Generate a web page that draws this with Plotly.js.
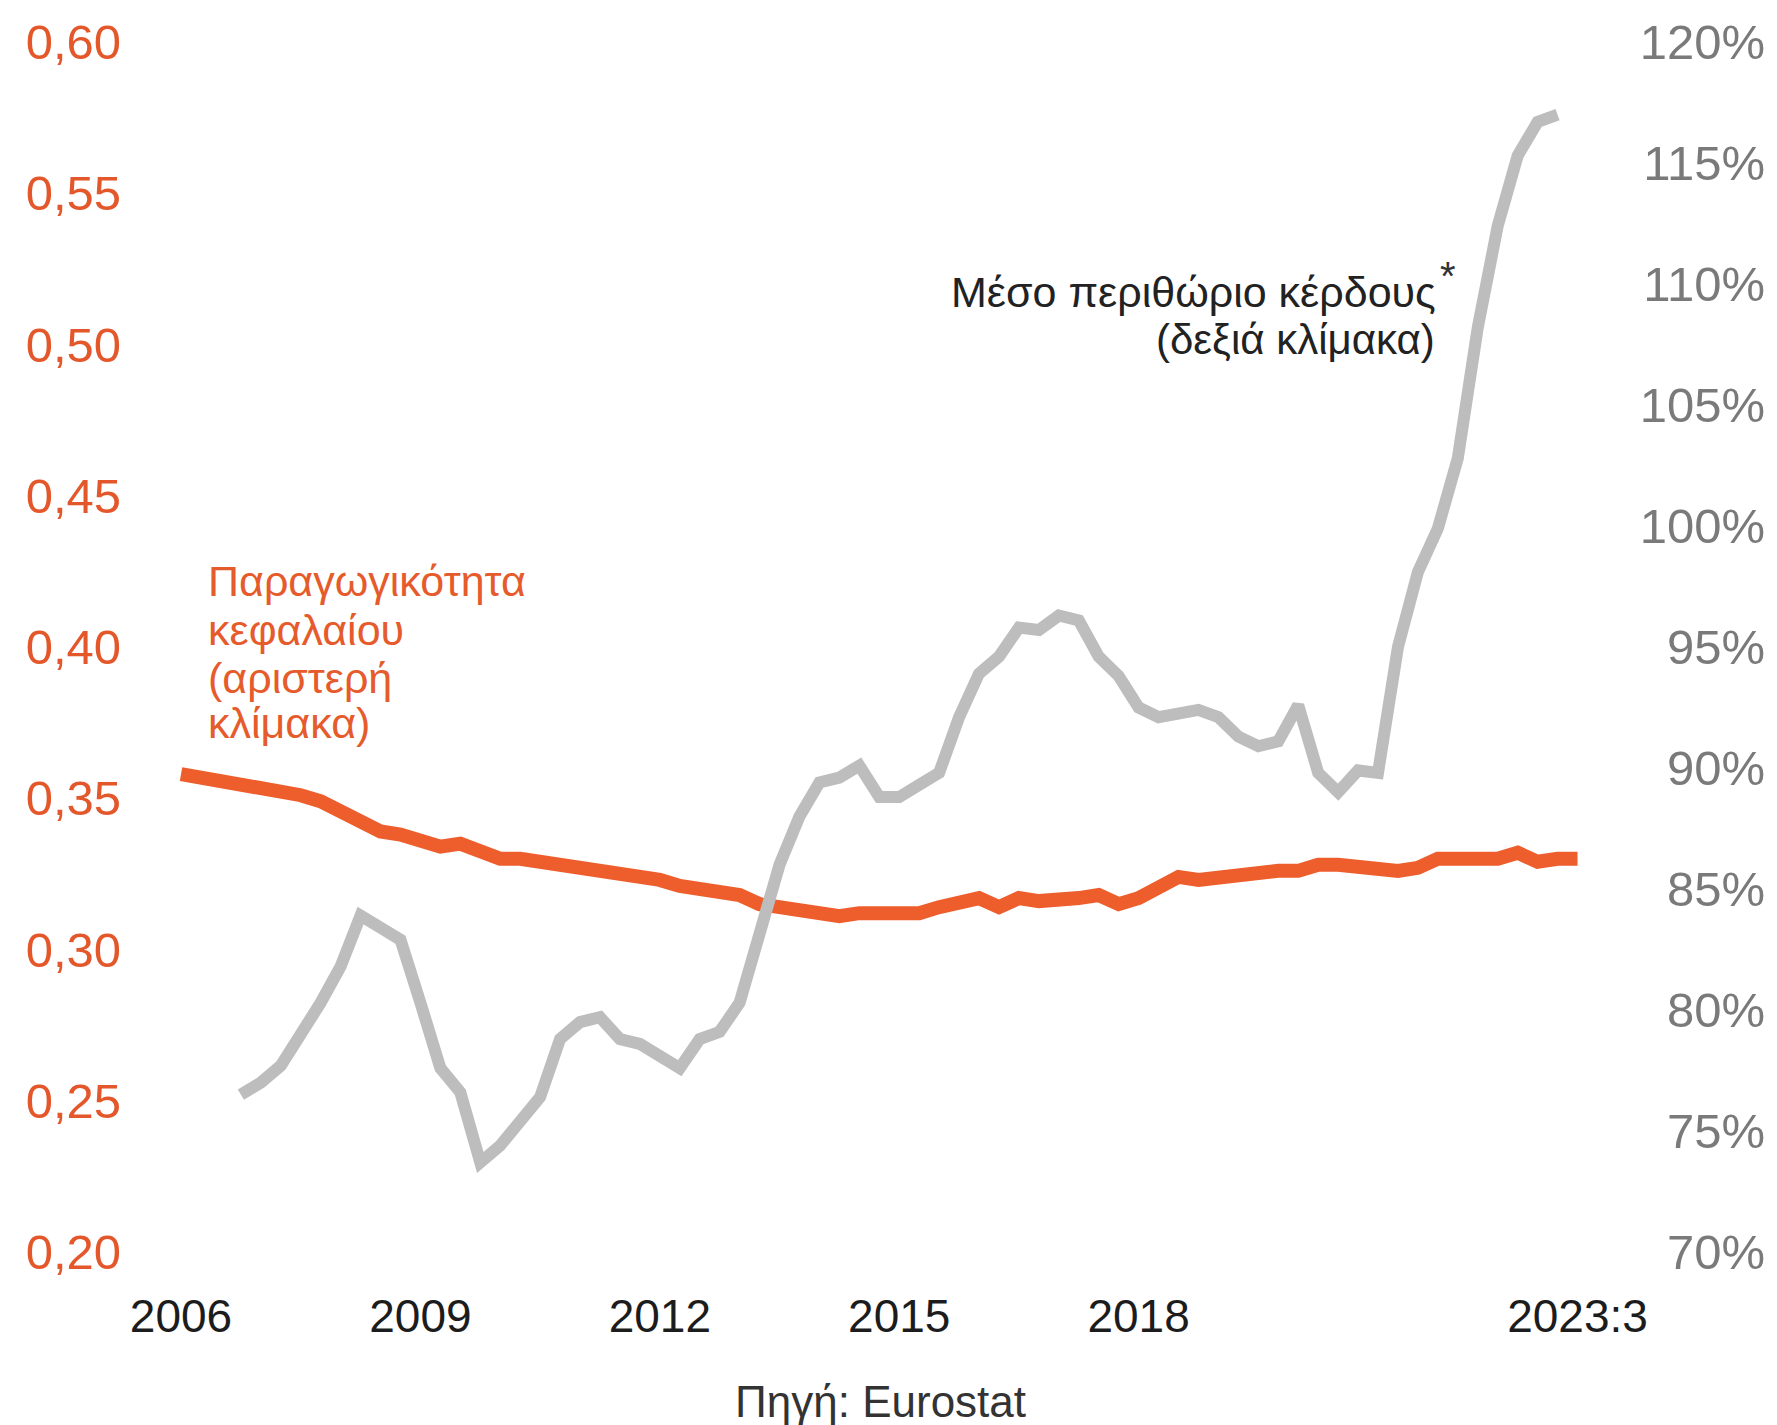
<!DOCTYPE html>
<html>
<head>
<meta charset="utf-8">
<script src="https://cdn.plot.ly/plotly-3.0.1.min.js"></script>
<style>
  html, body { margin: 0; padding: 0; background: #ffffff; }
  #chart { width: 1777px; height: 1425px; }
</style>
</head>
<body>
<div id="chart"></div>
<script>
// Quarterly periods (year:quarter)
const quarters = [
  '2006:1','2006:2','2006:3','2006:4','2007:1','2007:2','2007:3','2007:4',
  '2008:1','2008:2','2008:3','2008:4','2009:1','2009:2','2009:3','2009:4',
  '2010:1','2010:2','2010:3','2010:4','2011:1','2011:2','2011:3','2011:4',
  '2012:1','2012:2','2012:3','2012:4','2013:1','2013:2','2013:3','2013:4',
  '2014:1','2014:2','2014:3','2014:4','2015:1','2015:2','2015:3','2015:4',
  '2016:1','2016:2','2016:3','2016:4','2017:1','2017:2','2017:3','2017:4',
  '2018:1','2018:2','2018:3','2018:4','2019:1','2019:2','2019:3','2019:4',
  '2020:1','2020:2','2020:3','2020:4','2021:1','2021:2','2021:3','2021:4',
  '2022:1','2022:2','2022:3','2022:4','2023:1','2023:2','2023:3'
];

// Capital productivity (left scale)
const capitalProductivity = [
  0.358, 0.357, 0.356, 0.355, 0.354, 0.352, 0.351, 0.349, 0.346, 0.343,
  0.339, 0.338, 0.336, 0.334, 0.335, 0.333, 0.330, 0.330, 0.329, 0.329,
  0.327, 0.326, 0.325, 0.324, 0.323, 0.321, 0.320, 0.320, 0.318, 0.315,
  0.314, 0.314, 0.313, 0.311, 0.312, 0.312, 0.312, 0.312, 0.314, 0.315,
  0.317, 0.314, 0.317, 0.316, 0.316, 0.317, 0.318, 0.315, 0.317, 0.320,
  0.324, 0.323, 0.324, 0.325, 0.325, 0.326, 0.326, 0.328, 0.328, 0.327,
  0.326, 0.326, 0.327, 0.330, 0.330, 0.330, 0.330, 0.332, 0.329, 0.330, 0.330
];

// Average profit margin, % (right scale)
const profitMargin = [
  null, null, null, 76.5, 77.0, 77.7, 78.9, 80.3, 81.8, 83.9,
  83.4, 82.9, 80.3, 77.6, 76.6, 73.7, 74.4, 75.4, 76.4, 78.8,
  79.5, 79.7, 78.8, 78.6, 78.1, 77.6, 78.8, 79.1, 80.3, 83.3,
  86.0, 88.0, 89.4, 89.6, 90.1, 88.8, 88.8, 89.3, 89.8, 92.1,
  93.9, 94.6, 95.8, 95.7, 96.3, 96.1, 94.6, 93.8, 92.5, 92.1,
  92.2, 92.4, 92.1, 91.3, 90.9, 91.1, 92.6, 89.8, 89.0, 89.9,
  89.8, 95.0, 98.1, 99.9, 102.8, 108.2, 112.4, 115.3, 116.7, 117.0, null
];

const xTickVals = [2006, 2009, 2012, 2015, 2018, 2023.5];
const xTickText = ['2006', '2009', '2012', '2015', '2018', '2023:3'];
const leftTicks = [0.20, 0.25, 0.30, 0.35, 0.40, 0.45, 0.50, 0.55, 0.60];
const rightTicks = [70, 75, 80, 85, 90, 95, 100, 105, 110, 115, 120];
const rightTickText = rightTicks.map(v => v + '%');

// map "YYYY:Q" to a decimal-year position on the time axis
const xPos = quarters.map(q => {
  const [y, qq] = q.split(':').map(Number);
  return y + (qq - 1) / 4;
});

const ORANGE = '#EE5E2C';
const ORANGE_TEXT = '#E65B2B';
const GREY_LINE = '#BDBDBD';
const FONT = 'Liberation Sans, Arial, Helvetica, sans-serif';

const traces = [
  {
    x: xPos, y: capitalProductivity, yaxis: 'y', type: 'scatter', mode: 'lines',
    line: { color: ORANGE, width: 14 }, hoverinfo: 'skip', showlegend: false
  },
  {
    x: xPos, y: profitMargin, yaxis: 'y2', type: 'scatter', mode: 'lines',
    line: { color: GREY_LINE, width: 12 }, connectgaps: false, hoverinfo: 'skip', showlegend: false
  }
];

const annFont = (size, color) => ({ family: FONT, size: size, color: color });

const layout = {
  width: 1777, height: 1425,
  margin: { l: 125, r: 9, t: 8, b: 140 },
  paper_bgcolor: '#ffffff', plot_bgcolor: '#ffffff',
  separators: ',.',
  font: { family: FONT, color: '#222222' },
  showlegend: false,
  xaxis: {
    range: [2005.298, 2025.887],
    tickmode: 'array', tickvals: xTickVals, ticktext: xTickText,
    showgrid: false, zeroline: false, showline: false, ticks: '',
    tickfont: { family: FONT, size: 46, color: '#1c1c1c' },
    automargin: false
  },
  yaxis: {
    range: [0.189091, 0.611240],
    tickmode: 'array', tickvals: leftTicks, tickformat: '.2f',
    showgrid: false, zeroline: false, showline: false, ticks: '',
    tickfont: { family: FONT, size: 49, color: '#E4572A' },
    ticklabelstandoff: 3,
    automargin: false
  },
  yaxis2: {
    range: [68.636, 121.405],
    overlaying: 'y', side: 'right',
    tickmode: 'array', tickvals: rightTicks, ticktext: rightTickText,
    ticklabelposition: 'inside',
    showgrid: false, zeroline: false, showline: false, ticks: '',
    tickfont: { family: FONT, size: 49, color: '#7a7a7a' },
    automargin: false
  },
  annotations: [
    { text: 'Μέσο περιθώριο κέρδους', xref: 'x', yref: 'y2', x: 2021.752, y: 109.67,
      xanchor: 'right', yanchor: 'middle', showarrow: false, font: annFont(43, '#222222') },
    { text: '*', xref: 'x', yref: 'y2', x: 2021.877, y: 110.35,
      xanchor: 'center', yanchor: 'middle', showarrow: false, font: annFont(40, '#333333') },
    { text: '(δεξιά κλίμακα)', xref: 'x', yref: 'y2', x: 2021.74, y: 107.69,
      xanchor: 'right', yanchor: 'middle', showarrow: false, font: annFont(42, '#222222') },
    { text: 'Παραγωγικότητα', xref: 'x', yref: 'y', x: 2006.31, y: 0.4218,
      xanchor: 'left', yanchor: 'middle', showarrow: false, font: annFont(43, ORANGE_TEXT) },
    { text: 'κεφαλαίου', xref: 'x', yref: 'y', x: 2006.31, y: 0.4056,
      xanchor: 'left', yanchor: 'middle', showarrow: false, font: annFont(43, ORANGE_TEXT) },
    { text: '(αριστερή', xref: 'x', yref: 'y', x: 2006.31, y: 0.3898,
      xanchor: 'left', yanchor: 'middle', showarrow: false, font: annFont(43, ORANGE_TEXT) },
    { text: 'κλίμακα)', xref: 'x', yref: 'y', x: 2006.31, y: 0.3749,
      xanchor: 'left', yanchor: 'middle', showarrow: false, font: annFont(43, ORANGE_TEXT) },
    { text: 'Πηγή: Eurostat', xref: 'x', yref: 'paper', x: 2014.76, y: -0.09162,
      xanchor: 'center', yanchor: 'middle', showarrow: false, font: annFont(44, '#333333') }
  ]
};

Plotly.newPlot('chart', traces, layout, { displayModeBar: false, staticPlot: true });
</script>
</body>
</html>
